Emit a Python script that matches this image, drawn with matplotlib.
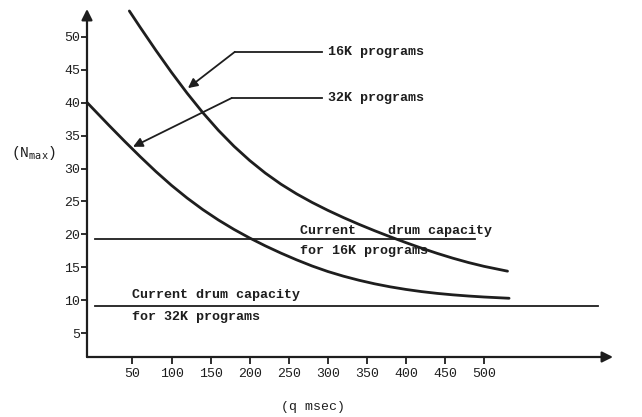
import matplotlib
matplotlib.use("Agg")
import matplotlib.pyplot as plt

# 16K programs curve
q_16k = [46, 60, 80, 100, 120, 140, 160, 180, 200, 220, 240, 260, 280,
         300, 320, 340, 360, 380, 400, 420, 440, 460, 480, 500, 530]
n_16k = [53.90, 51.40, 47.92, 44.58, 41.42, 38.48, 35.79, 33.37, 31.22,
         29.31, 27.63, 26.16, 24.85, 23.66, 22.56, 21.53, 20.56, 19.64,
         18.76, 17.92, 17.13, 16.40, 15.74, 15.16, 14.43]

# 32K programs curve
q_32k = [-8, 20, 40, 60, 80, 100, 120, 140, 160, 180, 200, 220, 240, 260,
         280, 300, 320, 340, 360, 380, 400, 420, 440, 460, 480, 500, 532]
n_32k = [40.00, 36.54, 34.13, 31.79, 29.54, 27.44, 25.52, 23.77, 22.19,
         20.76, 19.46, 18.27, 17.17, 16.15, 15.21, 14.38, 13.67, 13.05,
         12.51, 12.05, 11.66, 11.33, 11.06, 10.84, 10.66, 10.51, 10.32]

# current drum capacity lines
drum_16k = 19.3
drum_16k_q = [2.0, 488.0]
drum_32k = 9.2
drum_32k_q = [2.0, 646.0]

x_ticks = [50, 100, 150, 200, 250, 300, 350, 400, 450, 500]
y_ticks = [5, 10, 15, 20, 25, 30, 35, 40, 45, 50]

ink = "#1e1e1e"
mono = "Liberation Mono"

fig = plt.figure(figsize=(6.42, 4.17), dpi=100)
ax = fig.add_axes([87 / 642, 60 / 417, 526 / 642, 348 / 417])
ax.set_xlim(-8.2, 665)
ax.set_ylim(1.41, 54.2)

ax.plot(q_16k, n_16k, color=ink, lw=2.0, solid_capstyle="round",
        solid_joinstyle="round")
ax.plot(q_32k, n_32k, color=ink, lw=2.0, solid_capstyle="round",
        solid_joinstyle="round")
ax.plot(drum_16k_q, [drum_16k, drum_16k], color=ink, lw=1.3)
ax.plot(drum_32k_q, [drum_32k, drum_32k], color=ink, lw=1.3)

# leader lines with arrows
ax.plot([293, 181], [47.7, 47.7], color=ink, lw=1.3)
ax.annotate("", xy=(121, 42.2), xytext=(181, 47.7),
            arrowprops=dict(arrowstyle="-|>", color=ink, lw=1.3,
                            mutation_scale=14, shrinkA=0, shrinkB=0))
ax.plot([293, 177], [40.7, 40.7], color=ink, lw=1.3)
ax.annotate("", xy=(50.7, 33.3), xytext=(177, 40.7),
            arrowprops=dict(arrowstyle="-|>", color=ink, lw=1.3,
                            mutation_scale=14, shrinkA=0, shrinkB=0))

txt = dict(family=mono, fontsize=9.6, fontweight="bold", color=ink,
           va="center", ha="left")
ax.text(300, 47.7, "16K programs", **txt)
ax.text(300, 40.7, "32K programs", **txt)
ax.text(264.6, 20.5, "Current    drum capacity", **txt)
ax.text(264.6, 17.5, "for 16K programs", **txt)
ax.text(50, 10.8, "Current drum capacity", **txt)
ax.text(49, 7.5, "for 32K programs", **txt)

# axes with arrow heads
for s in ax.spines.values():
    s.set_visible(False)
ax.annotate("", xy=(1, 0), xytext=(0, 0), xycoords="axes fraction",
            arrowprops=dict(arrowstyle="-|>", color=ink, lw=1.6,
                            mutation_scale=16, shrinkA=0, shrinkB=0))
ax.annotate("", xy=(0, 1), xytext=(0, 0), xycoords="axes fraction",
            arrowprops=dict(arrowstyle="-|>", color=ink, lw=1.6,
                            mutation_scale=16, shrinkA=0, shrinkB=0))

ax.set_xticks(x_ticks)
ax.set_yticks(y_ticks)
ax.tick_params(axis="x", direction="out", length=5, width=1.3, pad=3,
               colors=ink, labelsize=9.5)
ax.tick_params(axis="y", direction="out", length=4, width=1.3, pad=1,
               colors=ink, labelsize=9.5)
for lab in ax.get_xticklabels() + ax.get_yticklabels():
    lab.set_family(mono)

fig.text(33 / 642, 1 - 153 / 417, r"(N$_{\mathtt{max}}$)", family=mono,
         fontsize=10.5, color=ink, ha="center", va="center")
fig.text(313 / 642, 1 - 407 / 417, "(q msec)", family=mono, fontsize=9.5,
         color=ink, ha="center", va="center")

fig.savefig("out.png", dpi=100)
